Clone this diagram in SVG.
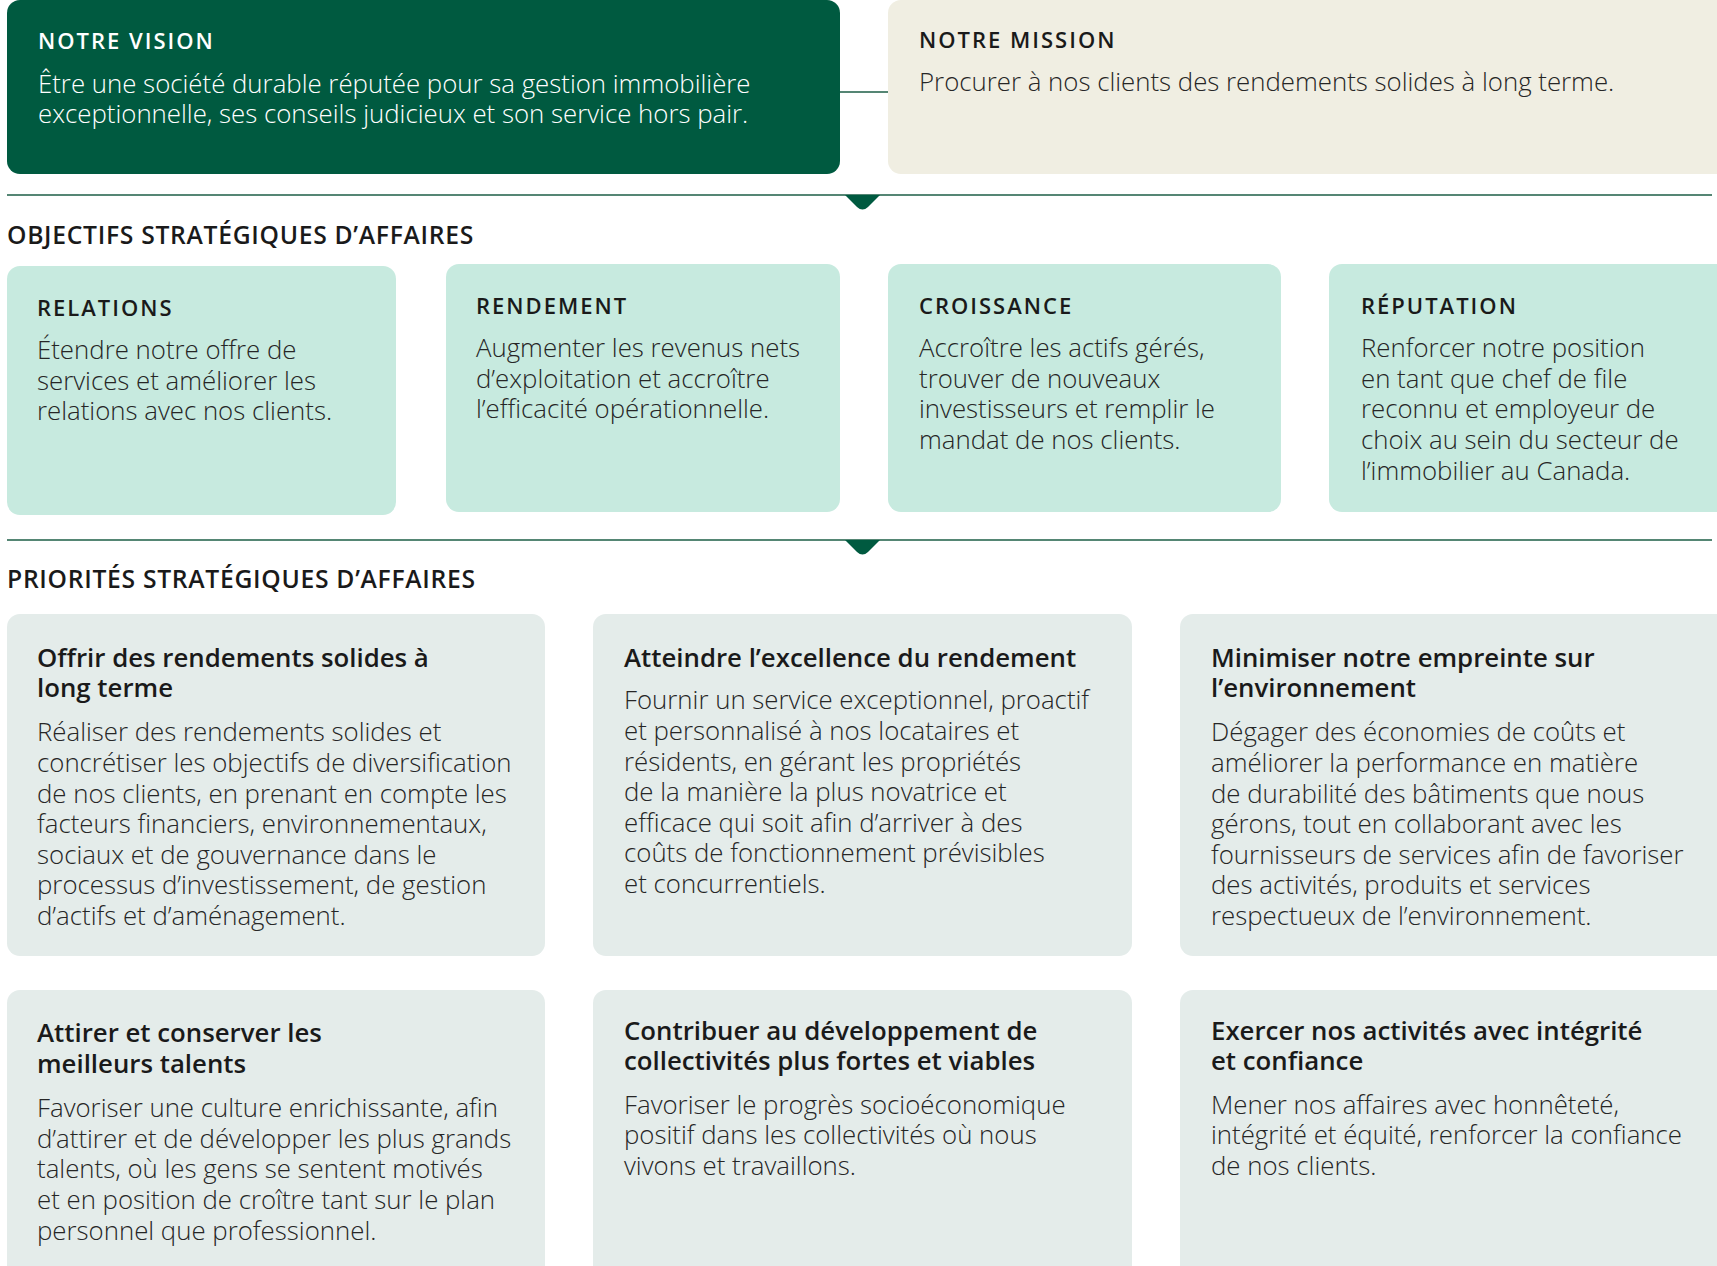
<svg xmlns="http://www.w3.org/2000/svg" width="1717" height="1266" viewBox="0 0 1717 1266">
  <style>
    text { font-family: "Open Sans", "Noto Sans", "Liberation Sans", sans-serif; }
    .cap { font-size: 22px; font-weight: 600; letter-spacing: 2px; fill: #1a1a1a; }
    .cap-w { fill: #ffffff; }
    .lead { font-size: 25.8px; font-weight: 300; fill: #262626; }
    .lead-w { fill: #ffffff; }
    .sec { font-size: 24.7px; font-weight: 600; letter-spacing: 0.7px; fill: #1a1a1a; }
    .ptitle { font-size: 25.8px; font-weight: 600; fill: #1a1a1a; }
    .pbody { font-size: 25.8px; font-weight: 300; fill: #262626; }
    .vision { fill: #005a40; }
    .mission { fill: #f0eee2; }
    .objective { fill: #c7eadf; }
    .priority { fill: #e4ecea; }
    .rule { stroke: #1c5e46; stroke-width: 1.6; fill: none; }
    .notch { fill: #005a40; }
  </style>

  <!-- connectors: link between vision and mission, section rules with notches -->
  <g id="connectors">
    <line class="rule" x1="838" y1="92" x2="890" y2="92"/>
    <line class="rule" x1="7" y1="195" x2="1712" y2="195"/>
    <path class="notch" d="M845 195 L880 195 L868 207 Q862.5 212 857 207 Z"/>
    <line class="rule" x1="7" y1="540" x2="1712" y2="540"/>
    <path class="notch" d="M845 540 L880 540 L868 552 Q862.5 557 857 552 Z"/>
  </g>

  <!-- vision -->
  <g id="vision">
    <rect class="vision" x="7" y="0" width="833" height="174" rx="13"/>
    <text class="cap cap-w" x="38" y="49">NOTRE VISION</text>
    <text class="lead lead-w" x="38" y="93">Être une société durable réputée pour sa gestion immobilière</text>
    <text class="lead lead-w" x="38" y="123">exceptionnelle, ses conseils judicieux et son service hors pair.</text>
  </g>

  <!-- mission -->
  <g id="mission">
    <rect class="mission" x="888" y="0" width="845" height="174" rx="13"/>
    <text class="cap" x="919" y="48">NOTRE MISSION</text>
    <text class="lead" x="919" y="91">Procurer à nos clients des rendements solides à long terme.</text>
  </g>

  <text class="sec" x="7" y="244">OBJECTIFS STRATÉGIQUES D’AFFAIRES</text>

  <!-- strategic objectives -->
  <g id="obj-relations">
    <rect class="objective" x="7" y="266" width="389" height="249" rx="13"/>
    <text class="cap" x="37" y="316">RELATIONS</text>
    <text class="lead" x="37" y="359">Étendre notre offre de</text>
    <text class="lead" x="37" y="390">services et améliorer les</text>
    <text class="lead" x="37" y="420">relations avec nos clients.</text>
  </g>
  <g id="obj-rendement">
    <rect class="objective" x="446" y="264" width="394" height="248" rx="13"/>
    <text class="cap" x="476" y="314">RENDEMENT</text>
    <text class="lead" x="476" y="357">Augmenter les revenus nets</text>
    <text class="lead" x="476" y="388">d’exploitation et accroître</text>
    <text class="lead" x="476" y="418">l’efficacité opérationnelle.</text>
  </g>
  <g id="obj-croissance">
    <rect class="objective" x="888" y="264" width="393" height="248" rx="13"/>
    <text class="cap" x="919" y="314">CROISSANCE</text>
    <text class="lead" x="919" y="357">Accroître les actifs gérés,</text>
    <text class="lead" x="919" y="388">trouver de nouveaux</text>
    <text class="lead" x="919" y="418">investisseurs et remplir le</text>
    <text class="lead" x="919" y="449">mandat de nos clients.</text>
  </g>
  <g id="obj-reputation">
    <rect class="objective" x="1329" y="264" width="400" height="248" rx="13"/>
    <text class="cap" x="1361" y="314">RÉPUTATION</text>
    <text class="lead" x="1361" y="357">Renforcer notre position</text>
    <text class="lead" x="1361" y="388">en tant que chef de file</text>
    <text class="lead" x="1361" y="418">reconnu et employeur de</text>
    <text class="lead" x="1361" y="449">choix au sein du secteur de</text>
    <text class="lead" x="1361" y="480">l’immobilier au Canada.</text>
  </g>

  <text class="sec" x="7" y="588">PRIORITÉS STRATÉGIQUES D’AFFAIRES</text>

  <!-- strategic priorities -->
  <g id="pri-rendements">
    <rect class="priority" x="7" y="614" width="538" height="342" rx="13"/>
    <text class="ptitle" x="37" y="667">Offrir des rendements solides à</text>
    <text class="ptitle" x="37" y="697">long terme</text>
    <text class="pbody" x="37" y="741">Réaliser des rendements solides et</text>
    <text class="pbody" x="37" y="772">concrétiser les objectifs de diversification</text>
    <text class="pbody" x="37" y="803">de nos clients, en prenant en compte les</text>
    <text class="pbody" x="37" y="833">facteurs financiers, environnementaux,</text>
    <text class="pbody" x="37" y="864">sociaux et de gouvernance dans le</text>
    <text class="pbody" x="37" y="894">processus d’investissement, de gestion</text>
    <text class="pbody" x="37" y="925">d’actifs et d’aménagement.</text>
  </g>
  <g id="pri-excellence">
    <rect class="priority" x="593" y="614" width="539" height="342" rx="13"/>
    <text class="ptitle" x="624" y="667">Atteindre l’excellence du rendement</text>
    <text class="pbody" x="624" y="709">Fournir un service exceptionnel, proactif</text>
    <text class="pbody" x="624" y="740">et personnalisé à nos locataires et</text>
    <text class="pbody" x="624" y="771">résidents, en gérant les propriétés</text>
    <text class="pbody" x="624" y="801">de la manière la plus novatrice et</text>
    <text class="pbody" x="624" y="832">efficace qui soit afin d’arriver à des</text>
    <text class="pbody" x="624" y="862">coûts de fonctionnement prévisibles</text>
    <text class="pbody" x="624" y="893">et concurrentiels.</text>
  </g>
  <g id="pri-environnement">
    <rect class="priority" x="1180" y="614" width="550" height="342" rx="13"/>
    <text class="ptitle" x="1211" y="667">Minimiser notre empreinte sur</text>
    <text class="ptitle" x="1211" y="697">l’environnement</text>
    <text class="pbody" x="1211" y="741">Dégager des économies de coûts et</text>
    <text class="pbody" x="1211" y="772">améliorer la performance en matière</text>
    <text class="pbody" x="1211" y="803">de durabilité des bâtiments que nous</text>
    <text class="pbody" x="1211" y="833">gérons, tout en collaborant avec les</text>
    <text class="pbody" x="1211" y="864">fournisseurs de services afin de favoriser</text>
    <text class="pbody" x="1211" y="894">des activités, produits et services</text>
    <text class="pbody" x="1211" y="925">respectueux de l’environnement.</text>
  </g>
  <g id="pri-talents">
    <rect class="priority" x="7" y="990" width="538" height="300" rx="13"/>
    <text class="ptitle" x="37" y="1042">Attirer et conserver les</text>
    <text class="ptitle" x="37" y="1073">meilleurs talents</text>
    <text class="pbody" x="37" y="1117">Favoriser une culture enrichissante, afin</text>
    <text class="pbody" x="37" y="1148">d’attirer et de développer les plus grands</text>
    <text class="pbody" x="37" y="1178">talents, où les gens se sentent motivés</text>
    <text class="pbody" x="37" y="1209">et en position de croître tant sur le plan</text>
    <text class="pbody" x="37" y="1240">personnel que professionnel.</text>
  </g>
  <g id="pri-collectivites">
    <rect class="priority" x="593" y="990" width="539" height="300" rx="13"/>
    <text class="ptitle" x="624" y="1040">Contribuer au développement de</text>
    <text class="ptitle" x="624" y="1070">collectivités plus fortes et viables</text>
    <text class="pbody" x="624" y="1114">Favoriser le progrès socioéconomique</text>
    <text class="pbody" x="624" y="1144">positif dans les collectivités où nous</text>
    <text class="pbody" x="624" y="1175">vivons et travaillons.</text>
  </g>
  <g id="pri-integrite">
    <rect class="priority" x="1180" y="990" width="550" height="300" rx="13"/>
    <text class="ptitle" x="1211" y="1040">Exercer nos activités avec intégrité</text>
    <text class="ptitle" x="1211" y="1070">et confiance</text>
    <text class="pbody" x="1211" y="1114">Mener nos affaires avec honnêteté,</text>
    <text class="pbody" x="1211" y="1144">intégrité et équité, renforcer la confiance</text>
    <text class="pbody" x="1211" y="1175">de nos clients.</text>
  </g>
</svg>
